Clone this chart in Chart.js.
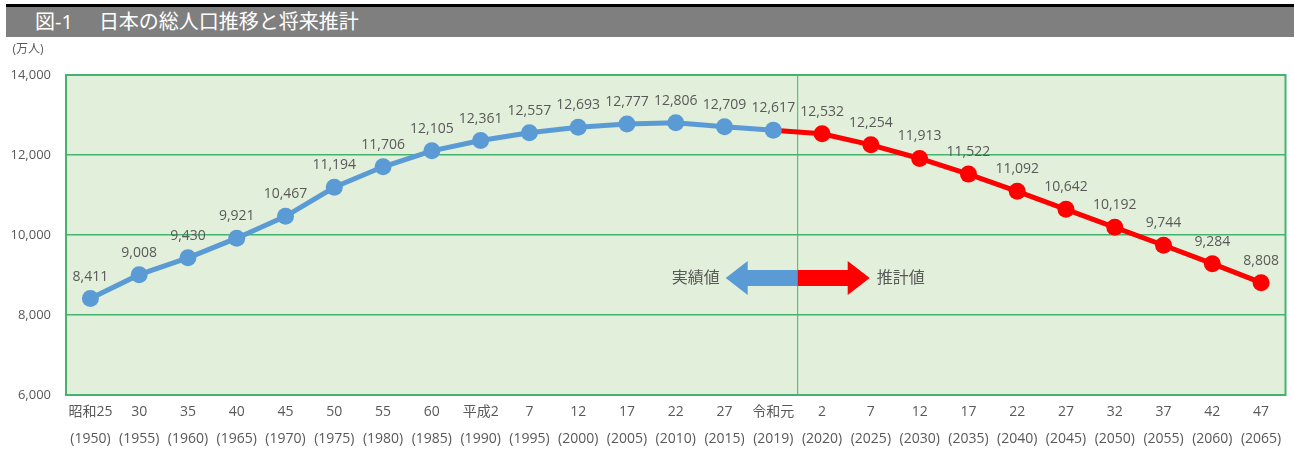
<!DOCTYPE html>
<html lang="ja">
<head>
<meta charset="utf-8">
<title>日本の総人口推移と将来推計</title>
<script src="https://cdn.jsdelivr.net/npm/chart.js@4"></script>
<style>
    html, body { margin: 0; padding: 0; background: #fff; }
    #wrap { position: relative; width: 1294px; height: 451px; overflow: hidden; }
    #population { position: absolute; left: 0; top: 0; }
    #title-bar {
        position: absolute; left: 6px; top: 4px; width: 1288px; height: 30px;
        border-top: 3px solid #000; background: #7f7f7f; color: #fff;
        font-family: "Open Sans", "Noto Sans CJK JP", sans-serif; font-weight: 400;
        font-size: 20px; line-height: 30px;
        padding-left: 29px; box-sizing: content-box; white-space: pre;
    }
    #title-bar .gap { display: inline-block; width: 26px; }
</style>
</head>
<body>
<div id="wrap">
    <canvas id="population" width="1294" height="451"></canvas>
    <div id="title-bar">図-1<span class="gap">　</span>日本の総人口推移と将来推計</div>
</div>
<script>
const eraLabels = ['昭和25', '30', '35', '40', '45', '50', '55', '60', '平成2', '7', '12', '17', '22', '27', '令和元',
    '2', '7', '12', '17', '22', '27', '32', '37', '42', '47'];
const yearLabels = ['(1950)', '(1955)', '(1960)', '(1965)', '(1970)', '(1975)', '(1980)', '(1985)', '(1990)', '(1995)',
    '(2000)', '(2005)', '(2010)', '(2015)', '(2019)', '(2020)', '(2025)', '(2030)', '(2035)', '(2040)',
    '(2045)', '(2050)', '(2055)', '(2060)', '(2065)'];
// 実績値 (万人)
const actualValues = [8411, 9008, 9430, 9921, 10467, 11194, 11706, 12105, 12361, 12557, 12693, 12777, 12806, 12709, 12617];
// 推計値 (万人)
const projectedValues = [12532, 12254, 11913, 11522, 11092, 10642, 10192, 9744, 9284, 8808];
const yTicks = [6000, 8000, 10000, 12000, 14000];

const FONT = '"Open Sans", "Noto Sans CJK JP", sans-serif';
const TEXT_GRAY = '#595959';
const GRID_GREEN = '#45b36e';
const BLUE = '#5b9bd5';
const RED = '#ff0000';

const lastActual = actualValues.length - 1;
// the projected line starts from the last actual point
const projectedSeries = eraLabels.map((_, i) => {
    if (i < lastActual) return null;
    if (i === lastActual) return actualValues[lastActual];
    return projectedValues[i - lastActual - 1];
});

const plotDecor = {
    id: 'plotDecor',
    beforeDatasetsDraw(chart) {
        const {ctx, chartArea: a, scales: {x, y}} = chart;
        ctx.save();
        // divider between actual and projection
        const divX = x.getPixelForValue(lastActual + 0.5);
        ctx.strokeStyle = GRID_GREEN;
        ctx.lineWidth = 1;
        ctx.beginPath();
        ctx.moveTo(divX, a.top);
        ctx.lineTo(divX, a.bottom);
        ctx.stroke();

        // arrows
        const cy = y.getPixelForValue(8925);
        const body = 8, head = 17, len = 72, headLen = 22;
        ctx.fillStyle = BLUE;
        ctx.beginPath();
        ctx.moveTo(divX, cy - body);
        ctx.lineTo(divX - len + headLen, cy - body);
        ctx.lineTo(divX - len + headLen, cy - head);
        ctx.lineTo(divX - len, cy);
        ctx.lineTo(divX - len + headLen, cy + head);
        ctx.lineTo(divX - len + headLen, cy + body);
        ctx.lineTo(divX, cy + body);
        ctx.closePath();
        ctx.fill();
        ctx.fillStyle = RED;
        ctx.beginPath();
        ctx.moveTo(divX, cy - body);
        ctx.lineTo(divX + len - headLen, cy - body);
        ctx.lineTo(divX + len - headLen, cy - head);
        ctx.lineTo(divX + len, cy);
        ctx.lineTo(divX + len - headLen, cy + head);
        ctx.lineTo(divX + len - headLen, cy + body);
        ctx.lineTo(divX, cy + body);
        ctx.closePath();
        ctx.fill();

        ctx.fillStyle = TEXT_GRAY;
        ctx.font = '16px ' + FONT;
        ctx.textBaseline = 'middle';
        ctx.textAlign = 'right';
        ctx.fillText('実績値', divX - len - 6, cy);
        ctx.textAlign = 'left';
        ctx.fillText('推計値', divX + len + 7, cy);
        ctx.restore();
    },
    beforeDraw(chart) {
        const {ctx, chartArea: a} = chart;
        ctx.save();
        ctx.fillStyle = '#e2efda';
        ctx.fillRect(a.left, a.top, a.right - a.left, a.bottom - a.top);
        ctx.fillStyle = TEXT_GRAY;
        ctx.font = '12px ' + FONT;
        ctx.textAlign = 'center';
        ctx.textBaseline = 'middle';
        ctx.fillText('(万人)', 28, 50);
        ctx.restore();
    },
    afterDraw(chart) {
        const {ctx, chartArea: a} = chart;
        ctx.save();
        ctx.strokeStyle = GRID_GREEN;
        ctx.lineWidth = 2;
        ctx.strokeRect(a.left, a.top, a.right - a.left, a.bottom - a.top);
        ctx.restore();
    }
};

const valueLabels = {
    id: 'valueLabels',
    afterDatasetsDraw(chart) {
        const {ctx} = chart;
        ctx.save();
        ctx.fillStyle = TEXT_GRAY;
        ctx.font = '14px ' + FONT;
        ctx.textAlign = 'center';
        ctx.textBaseline = 'middle';
        chart.data.datasets.forEach((ds, di) => {
            const meta = chart.getDatasetMeta(di);
            meta.data.forEach((pt, i) => {
                const v = ds.data[i];
                if (v === null || v === undefined) return;
                if (di === 1 && i === lastActual) return;
                ctx.fillText(v.toLocaleString('en-US'), pt.x, pt.y - 22);
            });
        });
        ctx.restore();
    }
};

new Chart(document.getElementById('population'), {
    type: 'line',
    data: {
        labels: eraLabels.map((e, i) => [e, yearLabels[i]]),
        datasets: [
            {
                label: '実績値',
                data: actualValues,
                borderColor: BLUE,
                backgroundColor: BLUE,
                borderWidth: 5,
                pointRadius: 8.5,
                pointBorderWidth: 0,
                pointBackgroundColor: BLUE,
                tension: 0
            },
            {
                label: '推計値',
                data: projectedSeries,
                borderColor: RED,
                backgroundColor: RED,
                borderWidth: 5,
                pointRadius: projectedSeries.map((_, i) => i === lastActual ? 0 : 8.5),
                pointBorderWidth: 0,
                pointBackgroundColor: RED,
                tension: 0
            }
        ]
    },
    options: {
        responsive: false,
        animation: false,
        devicePixelRatio: 1,
        layout: {padding: {top: 75, right: 2, left: 0, bottom: 0}},
        plugins: {
            legend: {display: false},
            title: {display: false},
            tooltip: {enabled: false}
        },
        scales: {
            x: {
                offset: true,
                grid: {display: false, drawTicks: false},
                border: {display: false},
                ticks: {
                    color: TEXT_GRAY,
                    font: {family: FONT, size: 14, lineHeight: 1.95},
                    padding: 3,
                    maxRotation: 0,
                    autoSkip: false
                },
                afterFit(scale) { scale.height = 56; }
            },
            y: {
                min: 6000,
                max: 14000,
                afterBuildTicks(scale) { scale.ticks = yTicks.map(v => ({value: v})); },
                grid: {color: GRID_GREEN, lineWidth: 1.5, drawTicks: false},
                border: {display: false},
                ticks: {
                    color: TEXT_GRAY,
                    font: {family: FONT, size: 13},
                    padding: 15,
                    callback: v => v.toLocaleString('en-US')
                },
                afterFit(scale) { scale.width = 66; }
            }
        }
    },
    plugins: [plotDecor, valueLabels]
});
</script>
</body>
</html>
